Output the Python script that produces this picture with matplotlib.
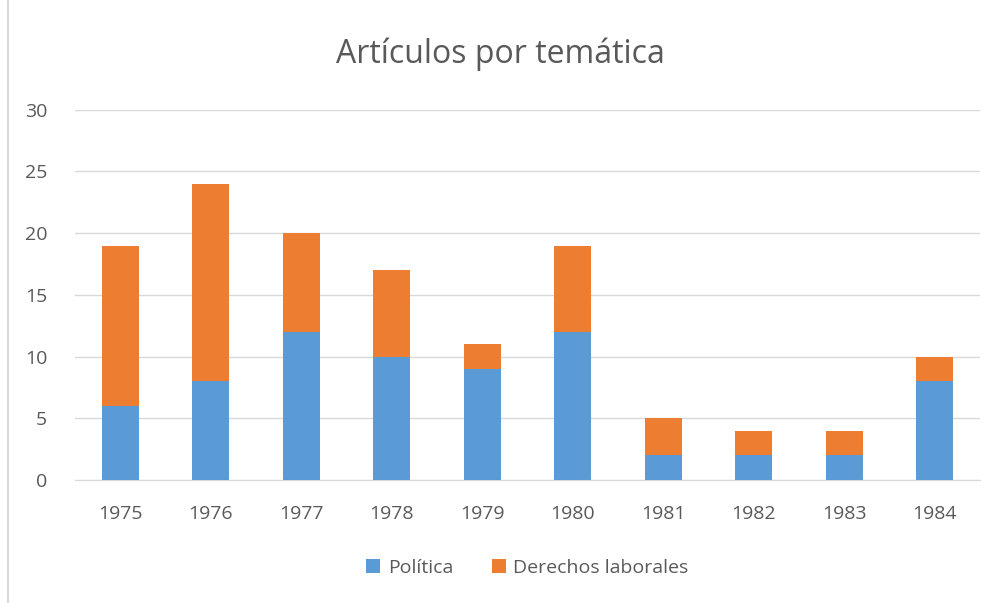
import matplotlib.pyplot as plt
import numpy as np
from matplotlib.lines import Line2D

years = ['1975', '1976', '1977', '1978', '1979', '1980', '1981', '1982', '1983', '1984']
politica = [6, 8, 12, 10, 9, 12, 2, 2, 2, 8]
derechos = [13, 16, 8, 7, 2, 7, 3, 2, 2, 2]

blue = '#5B9BD5'
orange = '#ED7D31'
txt = '#595959'

plt.rcParams['font.family'] = ['Open Sans', 'DejaVu Sans']

fig = plt.figure(figsize=(10, 6.03), dpi=100)
ax = fig.add_axes([0.075, 0.204, 0.905, 0.614])

x = np.arange(len(years))
ax.bar(x, politica, width=0.41, color=blue, label='Política', zorder=3)
ax.bar(x, derechos, width=0.41, bottom=politica, color=orange, label='Derechos laborales', zorder=3)

ax.set_ylim(0, 30)
ax.set_xlim(-0.5, len(years) - 0.5)
ax.set_yticks(range(0, 31, 5))
ax.set_xticks(x)
ax.set_xticklabels(years)
ax.yaxis.grid(True, color='#D9D9D9', linewidth=1, zorder=0)
for s in ['top', 'right', 'left']:
    ax.spines[s].set_visible(False)
ax.spines['bottom'].set_color('#D9D9D9')
ax.tick_params(axis='both', length=0, labelsize=14, colors=txt)
ax.tick_params(axis='x', pad=18)
ax.tick_params(axis='y', pad=20)

fig.suptitle('Artículos por temática', y=0.938, fontsize=23, color=txt)
ax.legend(loc='upper center', bbox_to_anchor=(0.5, -0.165), ncol=2, frameon=False,
          fontsize=14, labelcolor=txt, handlelength=0.7, handleheight=0.7,
          columnspacing=2.0, handletextpad=0.4)

fig.add_artist(Line2D([0.008, 0.008], [0, 1], transform=fig.transFigure, color='#D9D9D9', linewidth=1.5))

fig.savefig('out.png', dpi=100)
